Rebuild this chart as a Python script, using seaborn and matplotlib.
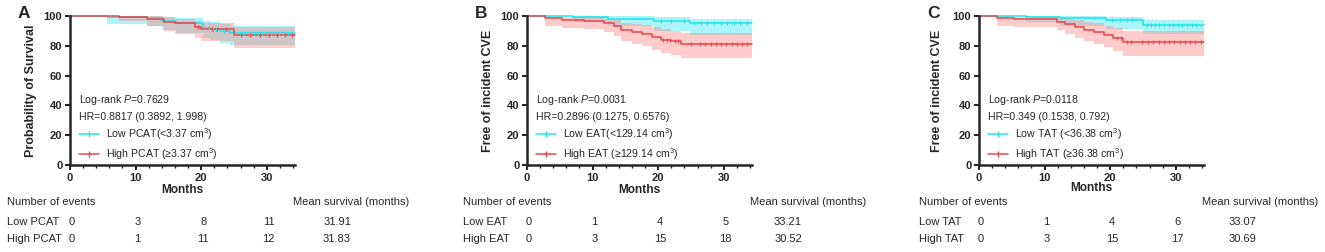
import numpy as np
import pandas as pd
import matplotlib
matplotlib.use("Agg")
import matplotlib.pyplot as plt
import matplotlib.transforms as mtrans
from matplotlib.lines import Line2D
import seaborn as sns

sns.set_style("ticks")
plt.rcParams['font.family'] = ['Liberation Sans', 'DejaVu Sans']
plt.rcParams['mathtext.fontset'] = 'custom'
plt.rcParams['mathtext.rm'] = 'Liberation Sans'
plt.rcParams['mathtext.it'] = 'Liberation Sans:italic'

follow_up = 34.3
x_ticks = [0, 10, 20, 30]

# Panel A - PCAT
a_low_t = [0, 5.6, 11.7, 14.0, 16.2, 20.2, 21.5, 22.9, 24.4]
a_low_s = [100, 99.3, 98.5, 96.5, 95.0, 92.0, 91.0, 90.0, 88.3]
a_low_lo = [100, 94.5, 93.0, 90.5, 88.5, 85.5, 84.0, 82.0, 80.5]
a_low_hi = [100, 100, 99.8, 99.3, 98.5, 96.8, 95.8, 94.5, 93.0]
a_high_t = [0, 7.5, 11.7, 14.3, 16.0, 19.0, 20.0, 25.0]
a_high_s = [100, 99.0, 98.0, 96.0, 95.0, 92.5, 91.0, 87.5]
a_high_lo = [100, 96.5, 93.5, 90.0, 88.0, 85.0, 83.0, 78.5]
a_high_hi = [100, 100, 99.8, 99.0, 98.3, 96.5, 95.5, 92.8]
a_low_cens = [20.6, 21.2, 21.8, 22.3, 23.5, 25.2, 25.9, 26.6, 27.3, 28.0, 28.6, 29.3, 30.0, 30.6, 31.2, 31.9, 32.5, 33.2, 33.9]
a_high_cens = [19.5, 21.6, 22.4, 23.8, 26.0, 27.5, 29.0, 30.4, 31.6, 32.8, 33.8]

# Panel B - EAT
b_low_t = [0, 7.0, 12.3, 19.4, 24.8]
b_low_s = [100, 99.4, 98.3, 96.8, 95.0]
b_low_lo = [100, 96.0, 93.0, 90.0, 87.2]
b_low_hi = [100, 100, 99.8, 99.4, 97.8]
b_high_t = [0, 2.8, 5.4, 8.7, 11.8, 13.3, 14.4, 16.0, 17.5, 19.1, 20.4, 22.0, 23.5]
b_high_s = [100, 98.5, 97.5, 96.8, 95.0, 93.0, 90.5, 89.0, 88.0, 86.0, 84.0, 83.0, 81.0]
b_high_lo = [100, 93.0, 92.0, 91.0, 89.0, 86.5, 83.5, 81.5, 80.0, 77.5, 75.5, 74.0, 71.5]
b_high_hi = [100, 99.7, 99.3, 99.0, 98.3, 97.0, 95.5, 94.5, 93.8, 92.5, 91.0, 90.0, 88.5]
b_low_cens = [20.5, 22.0, 24.0, 25.5, 26.5, 27.5, 28.5, 29.5, 30.5, 31.5, 32.5, 33.5]
b_high_cens = [20.8, 21.3, 21.8, 22.6, 23.0, 25.0, 26.4, 27.2, 28.0, 28.8, 29.6, 30.4, 31.2, 32.0, 32.8, 33.6]

# Panel C - TAT
c_low_t = [0, 7.2, 12.4, 19.3, 25.0]
c_low_s = [100, 99.4, 98.5, 97.0, 94.2]
c_low_lo = [100, 96.0, 93.5, 91.0, 88.0]
c_low_hi = [100, 100, 99.8, 99.5, 97.5]
c_high_t = [0, 2.8, 5.4, 11.9, 13.1, 14.6, 16.0, 17.5, 19.0, 20.4, 22.0]
c_high_s = [100, 98.5, 97.7, 96.3, 94.5, 92.3, 90.5, 89.0, 87.0, 85.0, 82.8]
c_high_lo = [100, 93.0, 92.3, 90.5, 88.0, 85.0, 83.0, 81.0, 79.0, 76.5, 73.0]
c_high_hi = [100, 99.8, 99.5, 99.0, 98.2, 97.0, 95.8, 95.0, 93.5, 92.0, 90.0]
c_low_cens = [20.3, 21.5, 22.5, 23.3, 25.6, 26.2, 26.9, 27.5, 28.2, 28.9, 29.6, 30.3, 31.0, 31.7, 32.4, 33.1, 33.8]
c_high_cens = [21.0, 21.6, 22.5, 23.2, 24.8, 25.8, 26.6, 27.4, 28.2, 29.0, 29.8, 30.6, 31.4, 32.2, 33.0, 33.8]

panels = [
    dict(letter='A', ylabel='Probability of Survival', group='PCAT',
         low=(a_low_t, a_low_s, a_low_lo, a_low_hi, a_low_cens),
         high=(a_high_t, a_high_s, a_high_lo, a_high_hi, a_high_cens),
         p='0.7629', hr='HR=0.8817 (0.3892, 1.998)',
         low_lab='Low PCAT(<3.37 cm$^3$)', high_lab='High PCAT (≥3.37 cm$^3$)',
         low_events=[0, 3, 8, 11], high_events=[0, 1, 11, 12],
         mean_low='31.91', mean_high='31.83',
         left=70, ylab_x=-0.147, months_y=-0.125,
         lab_x=7, mean_hdr_x=293, mean_x=337),
    dict(letter='B', ylabel='Free of incident CVE', group='EAT',
         low=(b_low_t, b_low_s, b_low_lo, b_low_hi, b_low_cens),
         high=(b_high_t, b_high_s, b_high_lo, b_high_hi, b_high_cens),
         p='0.0031', hr='HR=0.2896 (0.1275, 0.6576)',
         low_lab='Low EAT(<129.14 cm$^3$)', high_lab='High EAT (≥129.14 cm$^3$)',
         low_events=[0, 1, 4, 5], high_events=[0, 3, 15, 18],
         mean_low='33.21', mean_high='30.52',
         left=527, ylab_x=-0.145, months_y=-0.125,
         lab_x=463, mean_hdr_x=750, mean_x=788),
    dict(letter='C', ylabel='Free of incident CVE', group='TAT',
         low=(c_low_t, c_low_s, c_low_lo, c_low_hi, c_low_cens),
         high=(c_high_t, c_high_s, c_high_lo, c_high_hi, c_high_cens),
         p='0.0118', hr='HR=0.349 (0.1538, 0.792)',
         low_lab='Low TAT (<36.38 cm$^3$)', high_lab='High TAT (≥36.38 cm$^3$)',
         low_events=[0, 1, 4, 6], high_events=[0, 3, 15, 17],
         mean_low='33.07', mean_high='30.69',
         left=979, ylab_x=-0.16, months_y=-0.115,
         lab_x=919, mean_hdr_x=1202, mean_x=1242),
]

cyan = '#22E4EA'
red = '#E8474C'
cyan_fill = (0.55, 0.95, 0.97, 0.75)
red_fill = (1.0, 0.55, 0.55, 0.45)

W, H = 1325, 252
fig = plt.figure(figsize=(W / 100, H / 100), dpi=100)

tsize = 7.6
tabsize = 8.0


def draw_group(ax, data, color, fill):
    t, s, lo, hi, cens = data
    t_ext = np.append(t, follow_up)
    df = pd.DataFrame({'t': t_ext, 's': np.append(s, s[-1])})
    ax.fill_between(t_ext, np.append(lo, lo[-1]), np.append(hi, hi[-1]),
                    step='post', color=fill, lw=0)
    sns.lineplot(data=df, x='t', y='s', drawstyle='steps-post', color=color,
                 lw=1.1, ax=ax, clip_on=False)
    idx = np.searchsorted(t, cens, side='right') - 1
    ax.scatter(cens, np.asarray(s)[idx], marker='|', s=12, color=color,
               linewidths=0.8, zorder=4, clip_on=False)


for p in panels:
    ax = fig.add_axes([p['left'] / W, (H - 165) / H, 225 / W, 149 / H])
    draw_group(ax, p['low'], cyan, cyan_fill)
    draw_group(ax, p['high'], red, red_fill)

    ax.set_xlim(0, follow_up)
    ax.set_ylim(0, 100)
    ax.set_xticks(x_ticks)
    ax.set_xticks(np.arange(0, follow_up, 2), minor=True)
    ax.set_yticks([0, 20, 40, 60, 80, 100])
    ax.tick_params(axis='both', which='major', labelsize=8, width=1.5, length=3.5, pad=2)
    ax.tick_params(axis='x', which='minor', width=1.0, length=2)
    for lab in ax.get_xticklabels() + ax.get_yticklabels():
        lab.set_fontweight('bold')
    for sp in ['left', 'bottom']:
        ax.spines[sp].set_linewidth(1.8)
    sns.despine(ax=ax)

    ax.set_ylabel(p['ylabel'], fontsize=9, fontweight='bold')
    ax.yaxis.set_label_coords(p['ylab_x'], 0.5)
    ax.set_xlabel('Months', fontsize=8.6, fontweight='bold')
    ax.xaxis.set_label_coords(0.5, p['months_y'])

    ax.text(1.4, 43.6, 'Log-rank $P$=' + p['p'], fontsize=tsize, va='center')
    ax.text(1.4, 32.2, p['hr'], fontsize=tsize, va='center')

    handles = [Line2D([0], [0], color=cyan, lw=1.1, marker='|', markersize=4),
               Line2D([0], [0], color=red, lw=1.1, marker='|', markersize=4)]
    ax.legend(handles, [p['low_lab'], p['high_lab']], loc='lower left',
              bbox_to_anchor=(0.01, -0.02), frameon=False, fontsize=tsize,
              handlelength=1.9, handletextpad=0.7, labelspacing=0.35,
              borderaxespad=0.2)

    fig.text(p['left'] / W - 52 / W, 1 - 13 / H, p['letter'], fontsize=12.5,
             fontweight='bold', va='center', ha='left')

    # number of events table
    tr = mtrans.blended_transform_factory(ax.transData, fig.transFigure)
    fig.text(p['lab_x'] / W, 1 - 202 / H, 'Number of events', fontsize=tabsize, va='center')
    fig.text(p['mean_hdr_x'] / W, 1 - 202 / H, 'Mean survival (months)', fontsize=tabsize, va='center')
    for row_y, name, ev, mean in [(222, 'Low ' + p['group'], p['low_events'], p['mean_low']),
                                  (239, 'High ' + p['group'], p['high_events'], p['mean_high'])]:
        fig.text(p['lab_x'] / W, 1 - row_y / H, name, fontsize=tabsize, va='center')
        for xt, v in zip(x_ticks, ev):
            ax.text(xt + 0.3, 1 - row_y / H, str(v), transform=tr, fontsize=tabsize,
                    va='center', ha='center')
        fig.text(p['mean_x'] / W, 1 - row_y / H, mean, fontsize=tabsize, va='center', ha='center')

fig.savefig('out.png', dpi=100)
